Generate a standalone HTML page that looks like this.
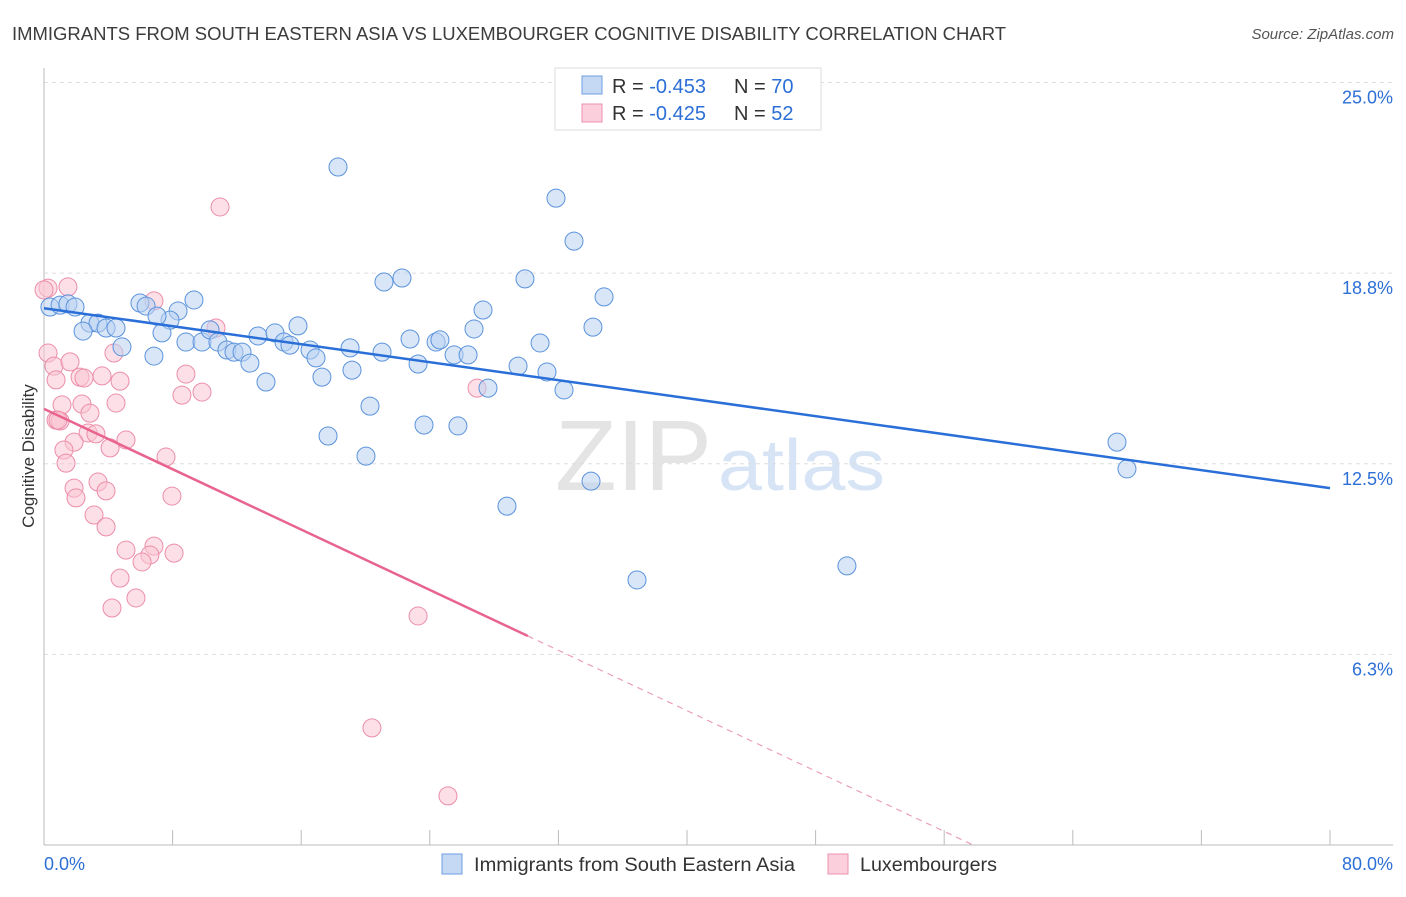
<!DOCTYPE html>
<html><head><meta charset="utf-8"><style>
body{margin:0;background:#fff;font-family:"Liberation Sans",sans-serif}
svg text{font-family:"Liberation Sans",sans-serif}
</style></head><body>
<svg id="c" width="1406" height="892">
<text x="12" y="40" font-size="18" fill="#3c3c3c" textLength="994" lengthAdjust="spacingAndGlyphs">IMMIGRANTS FROM SOUTH EASTERN ASIA VS LUXEMBOURGER COGNITIVE DISABILITY CORRELATION CHART</text>
<text x="1394" y="39" font-size="15" fill="#555" font-style="italic" text-anchor="end">Source: ZipAtlas.com</text>
<text x="34" y="456" font-size="17" fill="#333" text-anchor="middle" transform="rotate(-90 34 456)">Cognitive Disability</text>
<text x="555" y="490" font-size="100" fill="#e4e4e4" font-family="Liberation Serif" textLength="157" lengthAdjust="spacingAndGlyphs">ZIP</text>
<text x="718" y="490" font-size="72" fill="#d6e4f5" textLength="167" lengthAdjust="spacingAndGlyphs">atlas</text>
<g id="grid"></g><g id="marks"></g>
<g>
<rect x="555" y="68" width="266" height="62" fill="#fff" stroke="#ddd"/>
<rect x="582" y="76" width="20" height="18" fill="#c5d9f5" stroke="#6c9de0"/>
<rect x="582" y="104" width="20" height="18" fill="#fbd0dc" stroke="#ee8fab"/>
<text x="612" y="93" font-size="20" fill="#333">R = <tspan fill="#2c6fd6">-0.453</tspan></text>
<text x="734" y="93" font-size="20" fill="#333">N = <tspan fill="#2c6fd6">70</tspan></text>
<text x="612" y="120" font-size="20" fill="#333">R = <tspan fill="#2c6fd6">-0.425</tspan></text>
<text x="734" y="120" font-size="20" fill="#333">N = <tspan fill="#2c6fd6">52</tspan></text>
</g>
<g>
<rect x="442" y="854" width="20" height="20" fill="#c5d9f5" stroke="#6c9de0"/>
<text x="474" y="871" font-size="19" fill="#333" textLength="321" lengthAdjust="spacingAndGlyphs">Immigrants from South Eastern Asia</text>
<rect x="828" y="854" width="20" height="20" fill="#fbd0dc" stroke="#ee8fab"/>
<text x="860" y="871" font-size="19" fill="#333" textLength="137" lengthAdjust="spacingAndGlyphs">Luxembourgers</text>
</g>
</svg>
<script>
const yTicks=[25,18.75,12.5,6.25];
const yTickLabels=["25.0%","18.8%","12.5%","6.3%"];
const xTicks=[0,8,16,24,32,40,48,56,64,72,80];
const bluePx=[[338,167],[556,198],[574,241],[384,282],[402,278],[525,279],[604,297],[483,310],[593,327],[50,307],[60,305],[68,304],[75,307],[140,303],[146,306],[178,311],[194,300],[170,320],[157,316],[90,323],[98,323],[106,328],[116,328],[83,331],[122,347],[154,356],[162,333],[186,342],[202,342],[210,330],[218,342],[227,350],[234,352],[242,352],[250,363],[258,336],[275,333],[284,342],[290,345],[298,326],[310,350],[316,358],[322,377],[350,348],[352,370],[382,352],[410,339],[418,364],[436,342],[440,340],[454,355],[468,355],[474,329],[488,388],[518,366],[540,343],[547,372],[564,390],[266,382],[370,406],[328,436],[366,456],[424,425],[458,426],[591,481],[507,506],[637,580],[847,566],[1117,442],[1127,469]];
const pinkPx=[[48,288],[68,287],[154,301],[216,328],[220,207],[48,353],[54,366],[70,362],[56,380],[80,377],[84,378],[102,376],[120,381],[186,374],[202,392],[182,395],[477,388],[114,353],[62,405],[82,404],[116,403],[90,413],[56,420],[60,421],[88,433],[96,434],[126,440],[74,442],[110,448],[64,450],[166,457],[66,463],[98,482],[74,488],[106,491],[76,498],[172,496],[94,515],[106,527],[126,550],[154,546],[174,553],[150,555],[142,562],[120,578],[136,598],[112,608],[418,616],[372,728],[448,796],[44,290],[58,420]];
const blueX=bluePx.map(p=>+((p[0]-44)/16.075).toFixed(2));
const blueY=bluePx.map(p=>+((845-p[1])/30.5).toFixed(2));
const pinkX=pinkPx.map(p=>+((p[0]-44)/16.075).toFixed(2));
const pinkY=pinkPx.map(p=>+((845-p[1])/30.5).toFixed(2));
const blueTrend=[17.6,11.7];
const pinkTrend=[14.3,0];
const pinkTrendEndX=57.8, pinkSolidEndX=30.1;
const X=v=>44+v*16.075, Y=v=>845-v*30.5;
const NS="http://www.w3.org/2000/svg";
function mk(t,a,p){const e=document.createElementNS(NS,t);for(const k in a)e.setAttribute(k,a[k]);p.appendChild(e);return e;}
const g=document.getElementById('grid'),m=document.getElementById('marks');
yTicks.forEach((t,i)=>{
 const l=mk('line',{x1:44,x2:1393,y1:Y(t),y2:Y(t),stroke:'#ddd','stroke-dasharray':'4 4'},g);
 
 
 const tx=mk('text',{x:1393,y:Y(t)+21,'font-size':18,fill:'#2c6fd6','text-anchor':'end'},g);
 tx.textContent=yTickLabels[i];
 
 
});
const ax=mk('line',{x1:44,x2:44,y1:68,y2:845,stroke:'#bbb'},g);


const bx=mk('line',{x1:44,x2:1393,y1:845,y2:845,stroke:'#bbb'},g);


xTicks.forEach(t=>{const l=mk('line',{x1:X(t),x2:X(t),y1:830,y2:845,stroke:'#bbb'},g);
 
 });
[[0,'0.0%','start',44],[80,'80.0%','end',1393]].forEach(a=>{const t=mk('text',{x:a[3],y:870,'font-size':18,fill:'#2c6fd6','text-anchor':a[2]},g);t.textContent=a[1];
 
 });
function pts(xs,ys,fill,stroke,name){xs.forEach((x,i)=>{const c=mk('circle',{cx:X(x),cy:Y(ys[i]),r:9,fill:fill,'fill-opacity':0.55,stroke:stroke,'stroke-width':1},m);
 
 });}
pts(pinkX,pinkY,'#f9c4d3','#ec8eaa','luxembourger-point');
pts(blueX,blueY,'#b9d2f3','#5b93dc','sea-immigrant-point');
const bl=mk('line',{x1:X(0),y1:Y(blueTrend[0]),x2:X(80),y2:Y(blueTrend[1]),stroke:'#2a6fd8','stroke-width':2.5},m);


const py=x=>pinkTrend[0]+(pinkTrend[1]-pinkTrend[0])*x/pinkTrendEndX;
const pl=mk('line',{x1:X(0),y1:Y(py(0)),x2:X(pinkSolidEndX),y2:Y(py(pinkSolidEndX)),stroke:'#e8648f','stroke-width':2.5},m);


const pd=mk('line',{x1:X(pinkSolidEndX),y1:Y(py(pinkSolidEndX)),x2:X(pinkTrendEndX),y2:Y(0),stroke:'#eba0b8','stroke-width':1.2,'stroke-dasharray':'6 5'},m);


</script>
</body></html>
